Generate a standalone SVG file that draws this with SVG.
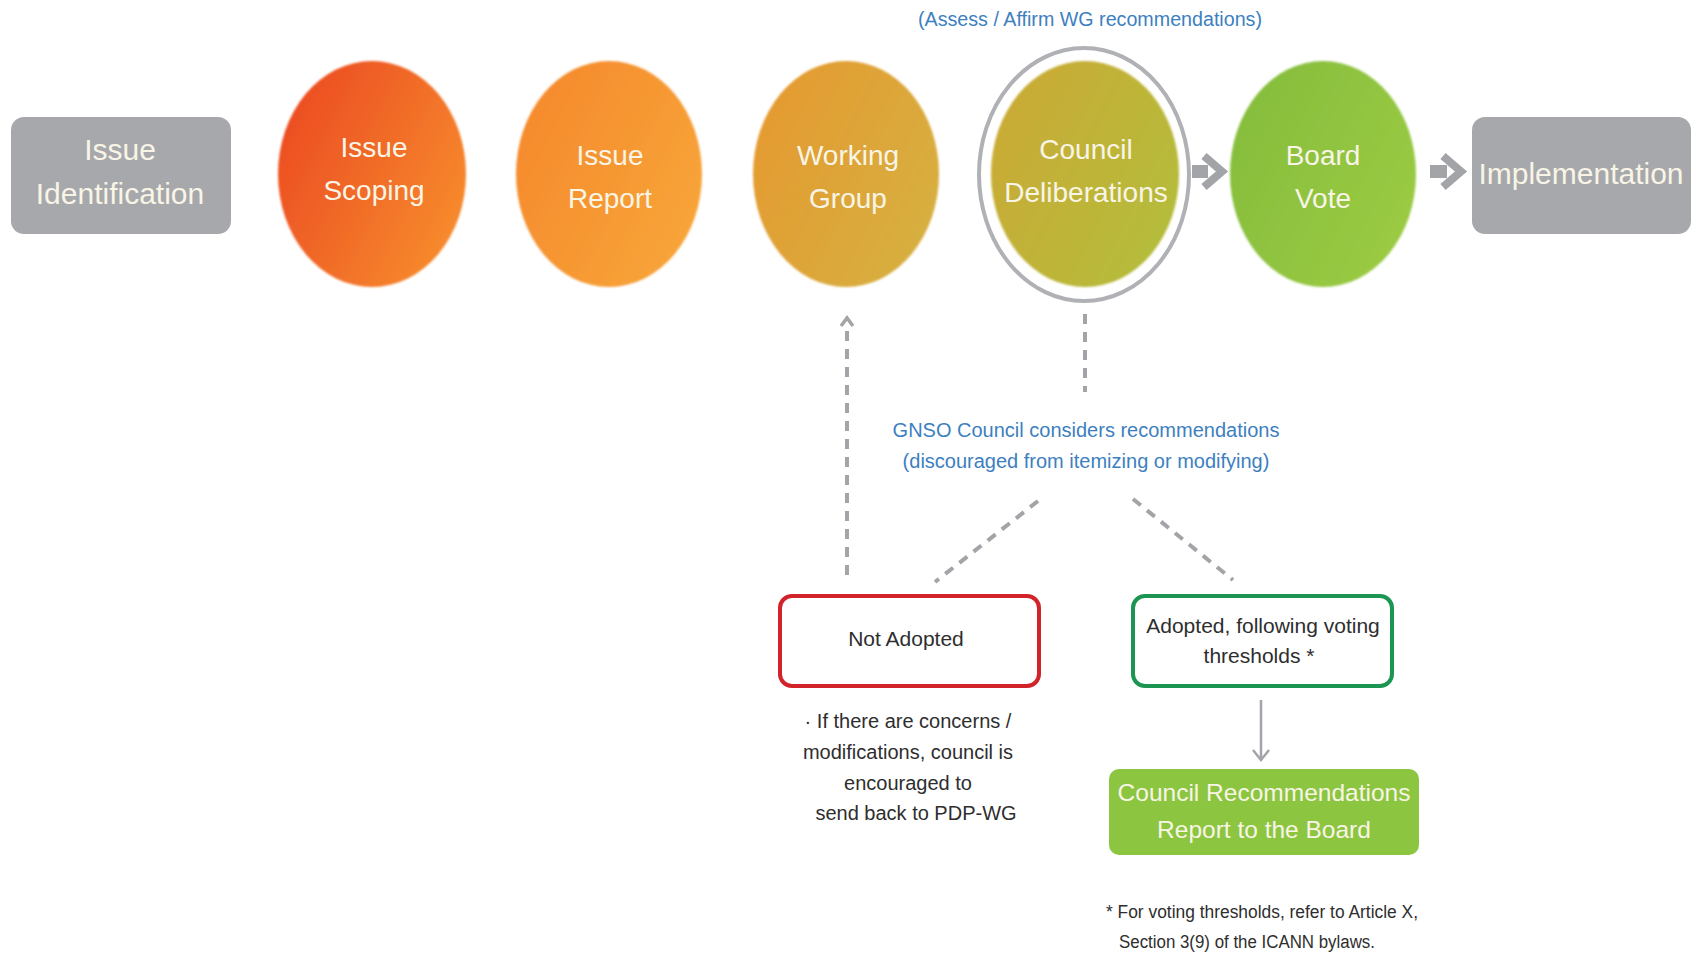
<svg xmlns="http://www.w3.org/2000/svg" width="1700" height="954" viewBox="0 0 1700 954">
<style>
.lbl{font-family:"Liberation Sans",Arial,sans-serif;fill:#f8f5e6;text-anchor:middle}
.c28{font-size:28px}
.c30{font-size:30px}
.blue{font-family:"Liberation Sans",Arial,sans-serif;fill:#3d7fbf;font-size:20px;text-anchor:middle}
.dark{font-family:"Liberation Sans",Arial,sans-serif;fill:#2e2e2e;text-anchor:middle}
.dash{fill:none;stroke:#a3a4a8;stroke-width:4;stroke-dasharray:10 8}
.gbox{fill:#a7a8ac}
</style>
<defs>
<filter id="soft" x="-10%" y="-10%" width="120%" height="120%"><feGaussianBlur stdDeviation="1.3"/></filter>
<linearGradient id="gScope" x1="0" y1="0.2" x2="1" y2="0.8"><stop offset="0" stop-color="#ec4a22"/><stop offset="1" stop-color="#f78e2e"/></linearGradient>
<linearGradient id="gReport" x1="0" y1="0.2" x2="1" y2="0.8"><stop offset="0" stop-color="#f5892c"/><stop offset="1" stop-color="#f8a63a"/></linearGradient>
<linearGradient id="gWG" x1="0" y1="0.2" x2="1" y2="0.8"><stop offset="0" stop-color="#e59a30"/><stop offset="1" stop-color="#d6b041"/></linearGradient>
<linearGradient id="gCouncil" x1="0" y1="0.2" x2="1" y2="0.8"><stop offset="0" stop-color="#cbaa35"/><stop offset="1" stop-color="#b3bd3c"/></linearGradient>
<linearGradient id="gBoard" x1="0" y1="0.2" x2="1" y2="0.8"><stop offset="0" stop-color="#85bd3c"/><stop offset="1" stop-color="#9ccb44"/></linearGradient>
<marker id="arrowHead" viewBox="0 0 10 12" refX="9" refY="6" markerWidth="10" markerHeight="12" markerUnits="userSpaceOnUse" orient="auto">
<path d="M2,0 L9,6 L2,12" fill="none" stroke="#a3a4a8" stroke-width="3"/>
</marker>
</defs>

<rect width="1700" height="954" fill="#ffffff"/>

<text class="blue" x="1090" y="26" textLength="344" lengthAdjust="spacingAndGlyphs">(Assess / Affirm WG recommendations)</text>

<g id="issue-identification">
<rect class="gbox" x="11" y="117" width="220" height="117" rx="13"/>
<text class="lbl c30" x="120" y="160">Issue</text>
<text class="lbl c30" x="120" y="204">Identification</text>
</g>

<g id="issue-scoping">
<ellipse cx="372" cy="174" rx="94" ry="113" fill="url(#gScope)" filter="url(#soft)"/>
<text class="lbl c28" x="374" y="157">Issue</text>
<text class="lbl c28" x="374" y="200">Scoping</text>
</g>

<g id="issue-report">
<ellipse cx="609" cy="174" rx="93" ry="113" fill="url(#gReport)" filter="url(#soft)"/>
<text class="lbl c28" x="610" y="165">Issue</text>
<text class="lbl c28" x="610" y="208">Report</text>
</g>

<g id="working-group">
<ellipse cx="846" cy="174" rx="93" ry="113" fill="url(#gWG)" filter="url(#soft)"/>
<text class="lbl c28" x="848" y="165">Working</text>
<text class="lbl c28" x="848" y="208">Group</text>
</g>

<g id="council-deliberations">
<ellipse cx="1084" cy="174.5" rx="105" ry="126.5" fill="none" stroke="#b0b1b5" stroke-width="4"/>
<ellipse cx="1085" cy="174" rx="94" ry="113" fill="url(#gCouncil)" filter="url(#soft)"/>
<text class="lbl c28" x="1086" y="159">Council</text>
<text class="lbl c28" x="1086" y="202">Deliberations</text>
</g>

<g id="board-vote">
<ellipse cx="1323" cy="174" rx="93" ry="113" fill="url(#gBoard)" filter="url(#soft)"/>
<text class="lbl c28" x="1323" y="165">Board</text>
<text class="lbl c28" x="1323" y="208">Vote</text>
</g>

<g id="implementation">
<rect class="gbox" x="1472" y="117" width="219" height="117" rx="13"/>
<text class="lbl c30" x="1581" y="184">Implementation</text>
</g>

<g id="not-adopted">
<rect x="780" y="596" width="259" height="90" rx="12" fill="#ffffff" stroke="#d2232a" stroke-width="4"/>
<text class="dark" x="906" y="646" font-size="21">Not Adopted</text>
</g>

<g id="not-adopted-note">
<text class="dark" font-size="20" x="908" y="728">· If there are concerns /</text>
<text class="dark" font-size="20" x="908" y="759">modifications, council is</text>
<text class="dark" font-size="20" x="908" y="790">encouraged to</text>
<text class="dark" font-size="20" x="916" y="820">send back to PDP-WG</text>
</g>

<g id="adopted">
<rect x="1133" y="596" width="259" height="90" rx="12" fill="#ffffff" stroke="#1d9552" stroke-width="4"/>
<text class="dark" x="1263" y="633" font-size="21">Adopted, following voting</text>
<text class="dark" x="1259" y="663" font-size="21">thresholds *</text>
</g>

<g id="council-recommendations">
<rect x="1109" y="769" width="310" height="86" rx="10" fill="#8cc540"/>
<text class="lbl" font-size="24.5" x="1264" y="801">Council Recommendations</text>
<text class="lbl" font-size="24.5" x="1264" y="838">Report to the Board</text>
</g>

<g id="gnso-note">
<text class="blue" x="1086" y="437">GNSO Council considers recommendations</text>
<text class="blue" x="1086" y="468">(discouraged from itemizing or modifying)</text>
</g>

<g id="footnote">
<text class="dark" font-size="18" x="1106" y="918" style="text-anchor:start" textLength="312" lengthAdjust="spacingAndGlyphs">* For voting thresholds, refer to Article X,</text>
<text class="dark" font-size="18" x="1119" y="948" style="text-anchor:start" textLength="256" lengthAdjust="spacingAndGlyphs">Section 3(9) of the ICANN bylaws.</text>
</g>

<g id="connectors">
<path d="M1192,165 h16 v13 h-16 z" fill="#a3a4a8"/>
<path d="M1204,156 L1222,171.5 L1204,187" fill="none" stroke="#a3a4a8" stroke-width="8"/>
<path d="M1430,165 h17 v13 h-17 z" fill="#a3a4a8"/>
<path d="M1443,156 L1461,171.5 L1443,187" fill="none" stroke="#a3a4a8" stroke-width="8"/>
<path class="dash" d="M847,575 V328"/>
<path d="M841,326 L847,318 L853,326" fill="none" stroke="#a3a4a8" stroke-width="3.5"/>
<path class="dash" d="M1085,314 V392"/>
<path class="dash" d="M1038,501 L935,582"/>
<path class="dash" d="M1133,499 L1233,580"/>
<path d="M1261,700 V760" fill="none" stroke="#a3a4a8" stroke-width="2.5"/>
<path d="M1253,750 L1261,760 L1269,750" fill="none" stroke="#a3a4a8" stroke-width="2.5"/>
</g>
</svg>
